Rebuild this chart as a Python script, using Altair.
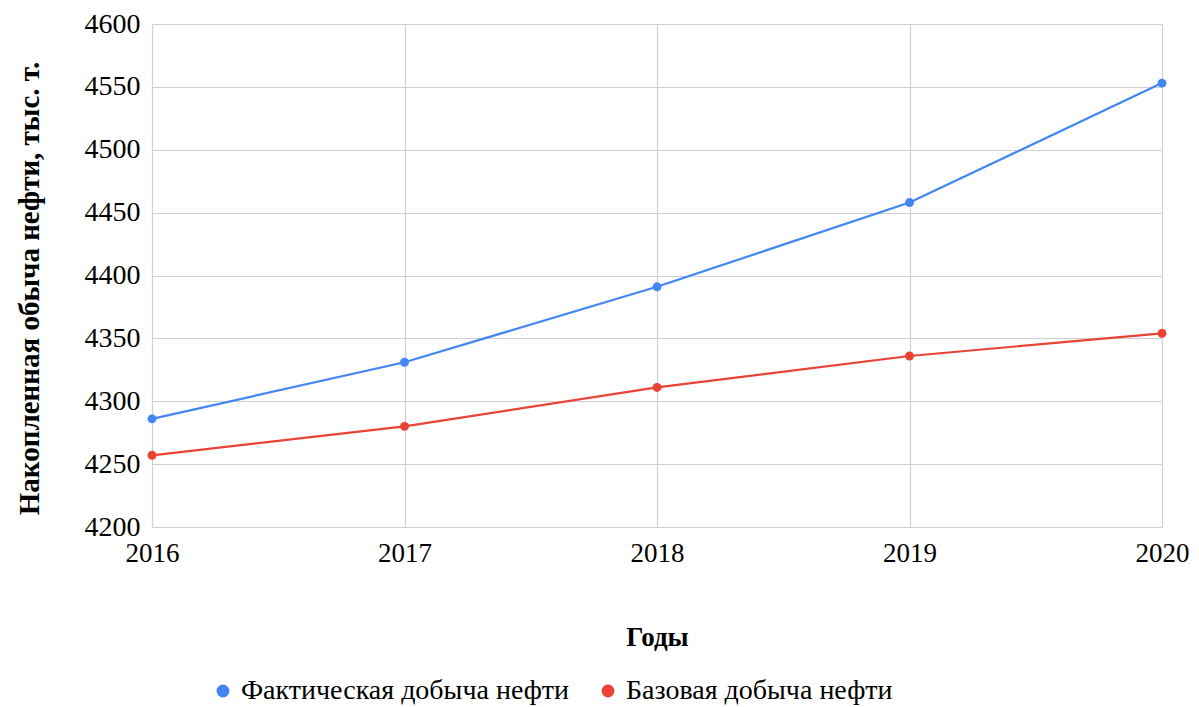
import altair as alt
import pandas as pd

years = [2016, 2017, 2018, 2019, 2020]
actual = [4286, 4331, 4391, 4458, 4553]
base = [4257, 4280, 4311, 4336, 4354]
series_names = ["Фактическая добыча нефти", "Базовая добыча нефти"]
colors = ["#4285F4", "#EA4335"]

rows = []
for y, v in zip(years, actual):
    rows.append({"year": y, "value": v, "series": series_names[0]})
for y, v in zip(years, base):
    rows.append({"year": y, "value": v, "series": series_names[1]})
df = pd.DataFrame(rows)

FONT = "Liberation Serif"

x = alt.X("year:Q", title="Годы",
          scale=alt.Scale(domain=[2016, 2020], nice=False, zero=False),
          axis=alt.Axis(values=years, format="d", labelFontSize=27, titleFontSize=27,
                        titleFontWeight="bold", titlePadding=58, ticks=False,
                        labelPadding=13, domain=False, grid=True,
                        labelFlush=False))
y = alt.Y("value:Q", title="Накопленная обыча нефти, тыс. т.",
          scale=alt.Scale(domain=[4200, 4600], nice=False, zero=False),
          axis=alt.Axis(values=list(range(4200, 4601, 50)), format="d", labelFontSize=28,
                        titleFontSize=29, titleFontWeight="bold", titlePadding=40,
                        titleY=264, ticks=False, labelPadding=12, domain=False, grid=True))
color = alt.Color("series:N", sort=series_names,
                  scale=alt.Scale(domain=series_names, range=colors),
                  legend=alt.Legend(title=None, orient="none", direction="horizontal",
                                    legendX=57, legendY=653, symbolType="circle",
                                    symbolSize=130, labelFontSize=28, labelLimit=0,
                                    columnPadding=24, labelColor="#000000"))

base_chart = alt.Chart(df).encode(x=x, y=y, color=color)
lines = base_chart.mark_line(strokeWidth=2.2)
points = base_chart.mark_point(filled=True, size=80, opacity=1)

chart = (lines + points).properties(
    width=1010, height=503,
    autosize=alt.AutoSizeParams(type="none"),
    padding={"left": 144, "top": 16, "right": 29, "bottom": 180},
).configure(font=FONT).configure_axis(
    labelFont=FONT, titleFont=FONT, labelColor="#000000", titleColor="#000000",
    gridColor="#d0d0d0", gridWidth=1.2
).configure_legend(labelFont=FONT).configure_view(stroke=None)

chart.save("out.html", embed_options={"renderer": "svg", "actions": False})
